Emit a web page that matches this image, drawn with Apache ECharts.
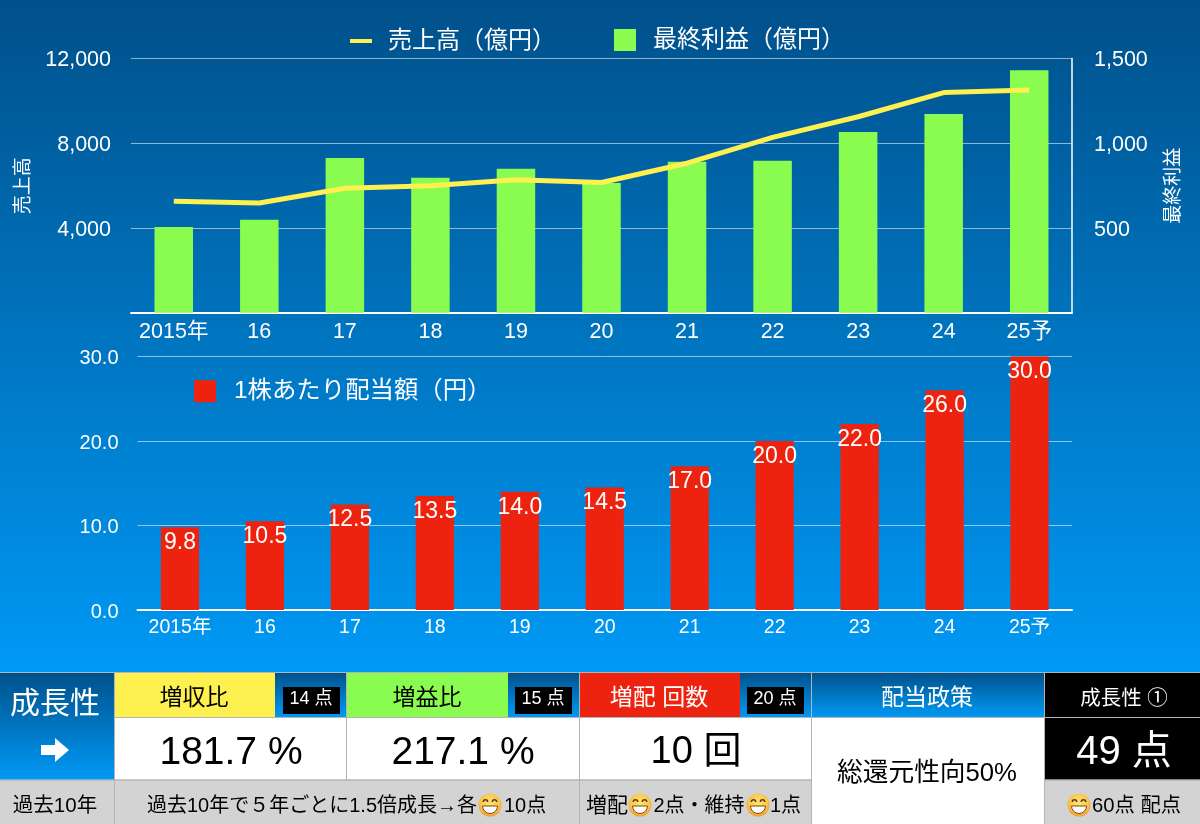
<!DOCTYPE html>
<html><head><meta charset="utf-8">
<style>html,body{margin:0;padding:0;background:#0099f5}#c{width:1200px;height:824px}</style>
<script src="https://cdn.jsdelivr.net/npm/echarts@6/dist/echarts.min.js"></script>
</head><body><div id="c"></div>
<script>
const categoriesTop = ['2015年','16','17','18','19','20','21','22','23','24','25予'];
const sales = [5260,5180,5880,6000,6280,6150,7060,8280,9250,10390,10510];
const profit = [506,549,913,797,850,766,891,897,1066,1173,1430];
const dividend = [9.8,10.5,12.5,13.5,14.0,14.5,17.0,20.0,22.0,26.0,30.0];
const seriesSales = '売上高（億円）';
const seriesProfit = '最終利益（億円）';
const seriesDividend = '1株あたり配当額（円）';
const headers = ['増収比','増益比','増配 回数','配当政策','成長性 ①'];
const badges = ['14 点','15 点','20 点'];
const results = ['181.7 %','217.1 %','10 回','49 点'];
const policy = '総還元性向50%';

const FONT = '"Liberation Sans","Noto Sans CJK JP",sans-serif';
const C = {yellow:'#fdf04f',green:'#8afc50',red:'#ee230f',dark:'#00508a',light:'#0099f5',grey:'#d3d3d3',rule:'#b4b4b4'};
const vGrad = (a,b)=>({type:'linear',x:0,y:0,x2:0,y2:1,colorStops:[{offset:0,color:a},{offset:1,color:b}]});
const rect = (x,y,w,h,fill)=>({type:'rect',shape:{x,y,width:w,height:h},style:{fill},silent:true});
const text = (t,x,y,size,fill,align)=>({type:'text',x,y:y+4,silent:true,style:{text:t,fill:fill||'#000',align:align||'center',verticalAlign:'middle',font:size+'px '+FONT}});
const line = (x1,y1,x2,y2,w)=>({type:'line',shape:{x1,y1,x2,y2},silent:true,style:{stroke:C.rule,lineWidth:w||1}});
const emoji = (cx,cy)=>[
  {type:'circle',silent:true,shape:{cx,cy,r:11.5},style:{fill:{type:'radial',x:0.5,y:0.4,r:0.65,colorStops:[{offset:0,color:'#fde678'},{offset:0.6,color:'#fbc84e'},{offset:1,color:'#ee9128'}]}}},
  {type:'sector',silent:true,shape:{cx,cy:cy+1,r:7.5,r0:0,startAngle:0,endAngle:Math.PI},style:{fill:'#fff',stroke:'#7a4a18',lineWidth:1}},
  {type:'arc',silent:true,shape:{cx:cx-4.5,cy:cy-3,r:2.2,startAngle:Math.PI,endAngle:2*Math.PI},style:{stroke:'#5a3a18',lineWidth:1.5,fill:'none'}},
  {type:'arc',silent:true,shape:{cx:cx+4.5,cy:cy-3,r:2.2,startAngle:Math.PI,endAngle:2*Math.PI},style:{stroke:'#5a3a18',lineWidth:1.5,fill:'none'}}
];

const table = [
  rect(0,672,1200,152,'#fff'),
  rect(0,672,114,108,vGrad(C.dark,C.light)),
  rect(114,672,161,45,C.yellow), rect(275,672,71,45,vGrad(C.dark,C.light)),
  rect(346,672,162,45,C.green), rect(508,672,71,45,vGrad(C.dark,C.light)),
  rect(579,672,161,45,C.red), rect(740,672,71,45,vGrad(C.dark,C.light)),
  rect(811,672,233,45,vGrad(C.dark,C.light)),
  rect(1044,672,156,108,'#000'),
  rect(0,780,811,44,C.grey), rect(1044,780,156,44,C.grey),
  rect(283,687,57,27,'#000'), rect(515,687,57,27,'#000'), rect(747,687,57,27,'#000'),
  {type:'polygon',silent:true,shape:{points:[[41,745],[55,745],[55,738],[69,750],[55,762],[55,755],[41,755]]},style:{fill:'#fff'}},
  line(0,672.5,1200,672.5,1), line(114,717.5,1044,717.5,1), line(0,780,811,780,1.5), line(1044,780,1200,780,1.5), line(1044,717.5,1200,717.5,1),
  line(114.5,672,114.5,824,1), line(346.5,672,346.5,780,1), line(579.5,672,579.5,824,1), line(811.5,672,811.5,824,1), line(1044.5,672,1044.5,824,1),
  text('成長性',55,701,30,'#fff'),
  text(headers[0],194,695,23,'#000'), text(headers[1],427,695,23,'#000'),
  text(headers[2],659,695,23,'#fff'), text(headers[3],927,695,23,'#fff'), text(headers[4],1124,695,20.5,'#fff'),
  text(badges[0],311,695,18,'#fff'), text(badges[1],543,695,18,'#fff'), text(badges[2],775,695,18,'#fff'),
  text(results[0],231,749,39,'#000'), text(results[1],463,749,39,'#000'), text(results[2],696,749,38,'#000'), text(results[3],1124,749,40,'#fff'),
  text(policy,927,770,25.7,'#000'),
  text('過去10年',55,802,20.5,'#000'),
  text('過去10年で５年ごとに1.5倍成長→各',477,802,20,'#000','right'), text('10点',504,802,20,'#000','left'),
  text('増配',628,802,21,'#000','right'), text('2点・維持',699,802,20,'#000'), text('1点',770,802,20,'#000','left'),
  text('60点 配点',1092,802,20.3,'#000','left'),
  ...emoji(490,805), ...emoji(640,805), ...emoji(758,805), ...emoji(1079,805)
];

const axisText = (size)=>({color:'#fff',fontSize:size,fontFamily:FONT});
const yLabel = (size,margin,fmt,extra)=>({margin,formatter:v=>'{a|'+fmt(v)+'}',rich:{a:{color:'#fff',fontSize:size,fontFamily:FONT,padding:[4,0,0,0]}},...extra});
const comma = v=>v.toLocaleString('en-US');
const chart = echarts.init(document.getElementById('c'),null,{renderer:'canvas'});
chart.setOption({
  animation:false,
  backgroundColor:{type:'linear',x:0,y:0,x2:0,y2:1,colorStops:[{offset:0,color:C.dark},{offset:672/824,color:C.light},{offset:1,color:C.light}]},
  textStyle:{fontFamily:FONT},
  legend:[
    {data:[seriesSales],left:350,top:27,icon:'rect',itemWidth:22,itemHeight:4,itemGap:0,padding:0,selectedMode:false,textStyle:{color:'#fff',fontSize:24,fontFamily:FONT,padding:[4,0,0,11],lineHeight:24}},
    {data:[seriesProfit],left:614,top:28,icon:'rect',itemWidth:22,itemHeight:22,padding:0,selectedMode:false,textStyle:{color:'#fff',fontSize:24,fontFamily:FONT,padding:[4,0,0,12]}},
    {data:[seriesDividend],left:194,top:379,icon:'rect',itemWidth:22,itemHeight:22,padding:0,selectedMode:false,textStyle:{color:'#fff',fontSize:24.4,fontFamily:FONT,padding:[7,0,0,13]}}
  ],
  grid:[
    {left:131,right:128,top:58.5,height:254.3},
    {left:137.5,right:128,top:356.5,height:253.5}
  ],
  xAxis:[
    {type:'category',gridIndex:0,data:categoriesTop,axisTick:{show:false},axisLine:{lineStyle:{color:'#fff',width:2}},axisLabel:{...axisText(21.5),margin:9,interval:0}},
    {type:'category',gridIndex:1,data:categoriesTop,axisTick:{show:false},axisLine:{lineStyle:{color:'#fff',width:2}},axisLabel:{...axisText(19.5),margin:8,interval:0}}
  ],
  yAxis:[
    {type:'value',gridIndex:0,min:0,max:12000,interval:4000,position:'left',name:'売上高',nameLocation:'middle',nameGap:98,nameRotate:90,
     nameTextStyle:{color:'#fff',fontSize:19,fontFamily:FONT},axisLine:{show:false},axisTick:{show:false},
     axisLabel:yLabel(21.5,20,comma,{showMinLabel:false}),splitLine:{lineStyle:{color:'rgba(255,255,255,0.55)',width:1}}},
    {type:'value',gridIndex:0,min:0,max:1500,interval:500,position:'right',name:'最終利益',nameLocation:'middle',nameGap:92,nameRotate:90,
     nameTextStyle:{color:'#fff',fontSize:19,fontFamily:FONT},axisLine:{show:true,lineStyle:{color:'#fff',width:1.5}},axisTick:{show:false},
     axisLabel:yLabel(21.5,22,comma,{showMinLabel:false}),splitLine:{show:false}},
    {type:'value',gridIndex:1,min:0,max:30,interval:10,axisLine:{show:false},axisTick:{show:false},
     axisLabel:yLabel(20,19,v=>v.toFixed(1)),splitLine:{lineStyle:{color:'rgba(255,255,255,0.55)',width:1}}}
  ],
  series:[
    {name:seriesProfit,type:'bar',xAxisIndex:0,yAxisIndex:1,data:profit,barWidth:'45%',itemStyle:{color:C.green}},
    {name:seriesSales,type:'line',xAxisIndex:0,yAxisIndex:0,data:sales,showSymbol:false,symbol:'none',z:5,lineStyle:{color:C.yellow,width:5},itemStyle:{color:C.yellow}},
    {name:seriesDividend,type:'bar',xAxisIndex:1,yAxisIndex:2,data:dividend,barWidth:'45%',itemStyle:{color:C.red},
     label:{show:true,position:'insideTop',distance:4,color:'#fff',fontSize:23,fontFamily:FONT,formatter:p=>p.value.toFixed(1)}}
  ],
  graphic:{elements:table}
});
</script></body></html>
